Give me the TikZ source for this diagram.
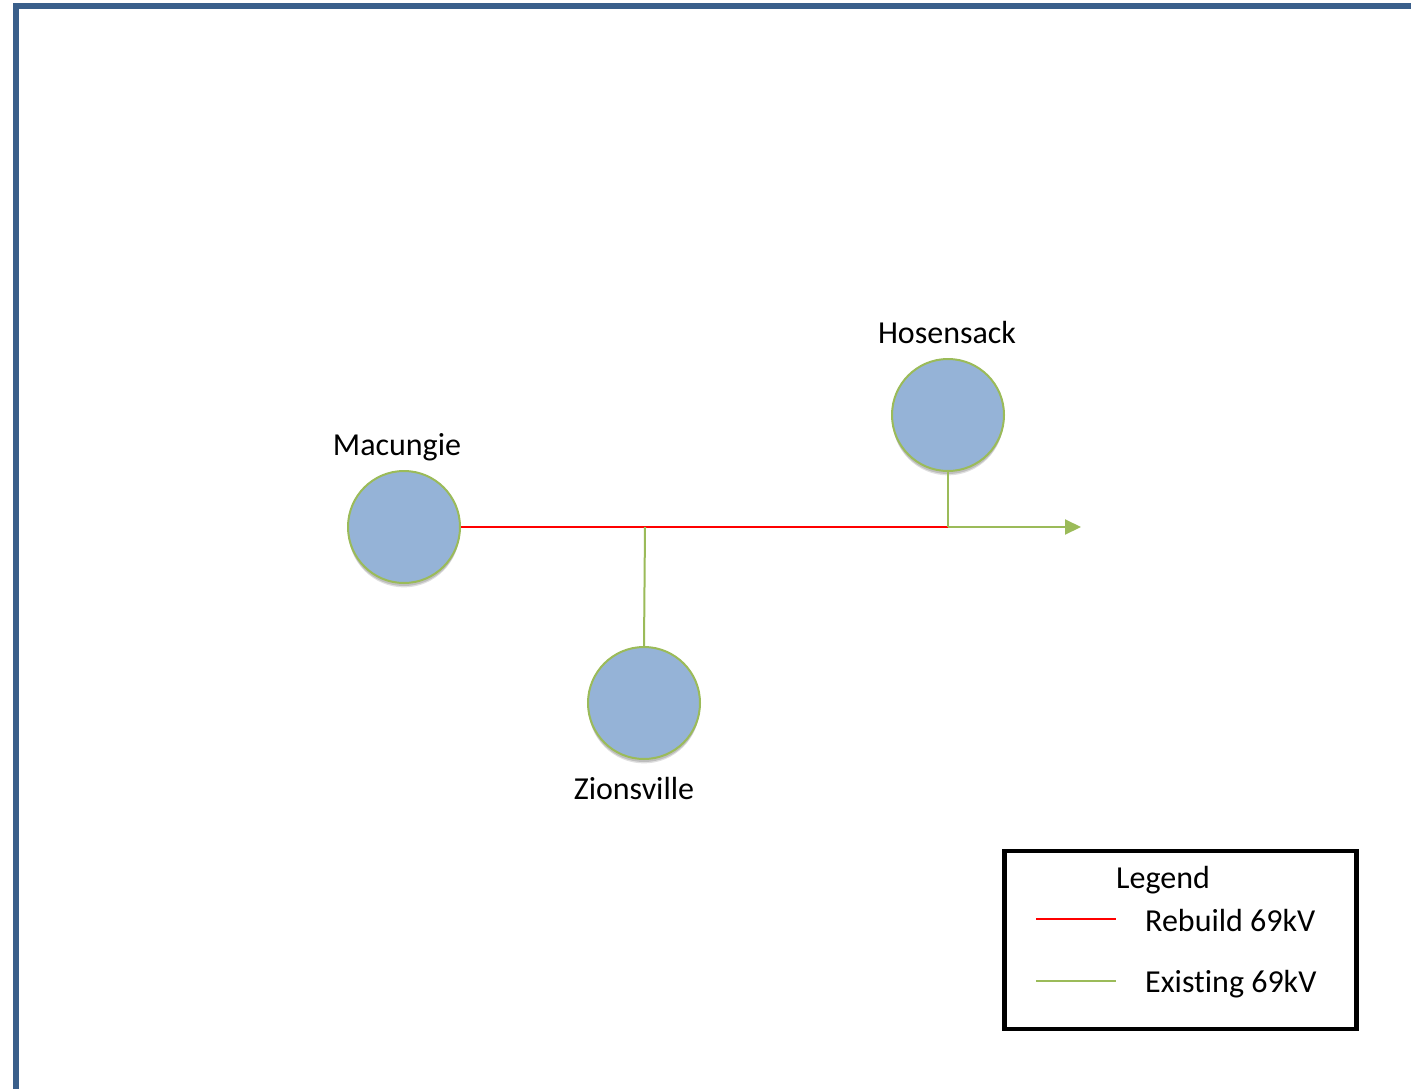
\documentclass[tikz,border=0pt]{standalone}
\usepackage{fontspec}
\setmainfont{Carlito}[Ligatures=NoCommon]
\usetikzlibrary{shadows,arrows.meta}
\definecolor{framecol}{RGB}{58,95,139}
\definecolor{nodefill}{RGB}{149,179,215}
\definecolor{nodeline}{RGB}{155,187,89}
\definecolor{rebuild}{RGB}{255,0,0}
\tikzset{
  station/.style={circle, minimum size=112pt, inner sep=0pt, fill=nodefill, draw=nodeline, line width=2pt,
    drop shadow={shadow xshift=0pt, shadow yshift=-5pt, shadow scale=0.99, opacity=0.12, fill=black},
    drop shadow={shadow xshift=0pt, shadow yshift=-3pt, opacity=0.15, fill=black}},
  lbl/.style={font=\fontsize{32}{38}\selectfont, anchor=base, inner sep=0pt},
  redline/.style={draw=rebuild, line width=2pt},
  greenline/.style={draw=nodeline, line width=2pt},
  legendbox/.style={draw=black, line width=4.5pt}
}
\begin{document}
\begin{tikzpicture}[x=1pt,y=-1pt]
\useasboundingbox (0,0) rectangle (1411,1089);
\clip (0,0) rectangle (1411,1089);
\fill[white] (0,0) rectangle (1411,1089);
% frame
\draw[framecol, line width=6pt] (16,1100) -- (16,6.5) -- (1420,6.5);
% stations
\node[station] (mac) at (404,527) {};
\node[station] (hos) at (948,415) {};
\node[station] (zio) at (644,703) {};
\node[lbl] (macl) at (397,455) {Macungie};
\node[lbl] (hosl) at (947,343) {Hosensack};
\node[lbl] (ziol) at (634,799) {Zionsville};
% junctions
\coordinate (jz) at (645,527);
\coordinate (jh) at (948,527);
\coordinate (tip) at (1081,527);
\draw[redline] (mac.east) -- (jh);
\draw[greenline] (zio.north) -- (jz);
\draw[greenline] (hos.south) -- (jh);
\draw[greenline, -{Triangle[length=16pt,width=15pt]}] (jh) -- (tip);
% legend
\node[legendbox, minimum width=352pt, minimum height=178pt, anchor=north west, inner sep=0pt, outer sep=0pt] (leg) at (1004.5,851) {};
\node[lbl] (legt) at (1163,888) {Legend};
\node[lbl, anchor=base west] (rebt) at (1145,931) {Rebuild 69kV};
\node[lbl, anchor=base west] (exit) at (1145,992) {Existing 69kV};
\coordinate (r1) at (1036,919);
\coordinate (r2) at (1116,919);
\coordinate (g1) at (1036,981);
\coordinate (g2) at (1116,981);
\draw[draw=rebuild, line width=1.5pt] (r1) -- (r2);
\draw[draw=nodeline, line width=1.5pt] (g1) -- (g2);
\end{tikzpicture}
\end{document}
